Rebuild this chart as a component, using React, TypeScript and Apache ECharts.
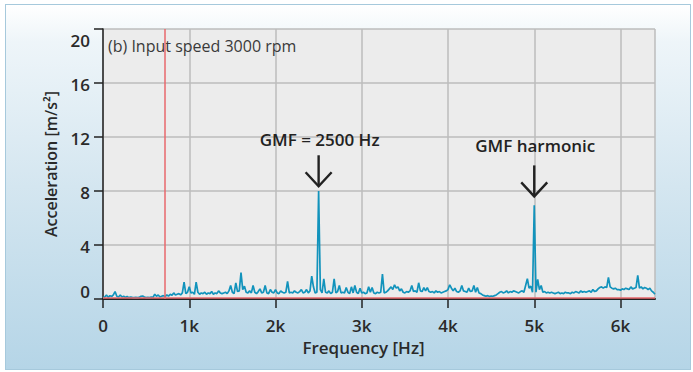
import React, { useEffect, useRef } from "react";
import * as echarts from "echarts";

// Sampling step of the spectrum (Hz) and amplitudes (m/s²), 0 .. 6400 Hz
const FREQ_STEP = 20;
const AMPLITUDE = [
  0.1, 0.15, 0.3, 0.12, 0.25, 0.18, 0.3, 0.55, 0.2, 0.15,
  0.3, 0.15, 0.2, 0.12, 0.18, 0.1, 0.15, 0.12, 0.1, 0.12,
  0.1, 0.12, 0.2, 0.22, 0.15, 0.1, 0.12, 0.1, 0.15, 0.12,
  0.35, 0.2, 0.3, 0.15, 0.2, 0.25, 0.18, 0.3, 0.22, 0.35,
  0.28, 0.45, 0.3, 0.35, 0.4, 0.3, 0.45, 1.25, 0.4, 0.5,
  0.9, 0.45, 0.5, 0.35, 1.25, 0.5, 0.35, 0.45, 0.4, 0.5,
  0.35, 0.45, 0.4, 0.55, 0.35, 0.45, 0.4, 0.6, 0.45, 0.4,
  0.45, 0.5, 0.4, 0.6, 1.0, 0.5, 0.4, 1.2, 0.55, 0.6,
  1.95, 0.7, 0.95, 0.5, 0.45, 0.6, 0.45, 1.0, 0.5, 0.4,
  0.55, 0.75, 0.45, 0.5, 1.0, 0.45, 0.4, 0.7, 0.5, 0.45,
  0.7, 0.45, 0.4, 0.6, 0.5, 0.45, 0.5, 1.3, 0.45, 0.5,
  0.45, 0.6, 0.5, 0.45, 0.55, 0.7, 0.45, 0.5, 0.7, 0.45,
  0.6, 1.7, 0.9, 0.45, 0.5, 8.0, 0.7, 0.45, 1.5, 0.5,
  0.45, 0.6, 0.4, 0.5, 1.5, 0.45, 0.55, 1.0, 0.45, 0.5,
  0.45, 0.85, 0.5, 0.4, 0.9, 0.45, 1.0, 0.5, 0.4, 0.8,
  0.45, 0.5, 0.4, 0.45, 0.9, 0.5, 0.85, 0.45, 0.4, 0.5,
  0.45, 0.5, 1.85, 0.45, 0.5, 0.6, 0.75, 0.9, 0.7, 1.05,
  0.8, 0.9, 0.6, 0.75, 0.5, 0.45, 0.55, 0.5, 0.6, 1.0,
  0.55, 0.6, 0.5, 1.2, 0.6, 0.55, 0.85, 0.6, 0.85, 0.55,
  0.5, 0.55, 0.45, 0.6, 0.5, 0.55, 0.45, 0.5, 0.55, 0.6,
  0.7, 1.05, 0.8, 0.6, 0.8, 0.55, 0.5, 0.6, 1.0, 0.6,
  0.55, 0.5, 0.8, 0.55, 0.6, 1.0, 0.5, 0.85, 0.45, 0.4,
  0.3, 0.25, 0.2, 0.25, 0.18, 0.22, 0.2, 0.25, 0.3, 0.4,
  0.5, 0.55, 0.45, 0.5, 0.6, 0.45, 0.55, 0.5, 0.6, 0.55,
  0.5, 0.45, 0.55, 0.6, 0.5, 1.0, 1.5, 0.8, 0.95, 0.5,
  6.95, 0.5, 1.45, 0.7, 1.0, 0.5, 0.55, 0.45, 0.5, 0.45,
  0.5, 0.45, 0.4, 0.45, 0.5, 0.4, 0.45, 0.4, 0.5, 0.45,
  0.45, 0.4, 0.5, 0.45, 0.55, 0.5, 0.45, 0.6, 0.5, 0.55,
  0.5, 0.55, 0.6, 0.5, 0.7, 0.55, 0.6, 0.75, 0.85, 0.9,
  0.8, 0.9, 0.85, 1.6, 0.9, 0.8, 0.75, 0.8, 0.7, 0.7,
  0.65, 0.75, 0.7, 0.8, 0.75, 0.7, 0.9, 0.75, 0.8, 0.85,
  1.75, 0.8, 0.9, 0.75, 0.85, 0.8, 0.7, 0.8, 0.6, 0.5,
  0.35,
];

const X_MIN = 0;
const X_MAX = 6400;
const X_INTERVAL = 1000;
const Y_TICKS = [0, 4, 8, 12, 16, 20];
const RED_MARKER_FREQ = 715;
const RED_THRESHOLD = 0.1;

const ANNOTATION_FREQS = [2500, 5000];
const ANNOTATION_LABELS = ["GMF = 2500 Hz", "GMF harmonic"];
const ANNOTATION_TIP_VALUES = [8.35, 7.6];
const ANNOTATION_LABEL_VALUES = [11.85, 11.4];
const PANEL_TITLE = "(b) Input speed 3000 rpm";

const FONT = "'Open Sans', 'Noto Sans', sans-serif";

export default function App() {
  const ref = useRef<HTMLDivElement>(null);

  useEffect(() => {
    if (!ref.current) return;
    const chart = echarts.init(ref.current, undefined, { renderer: "svg" });
    const data = AMPLITUDE.map((v, i) => [i * FREQ_STEP, v]);
    const yMin = Y_TICKS[0];
    const yMax = Y_TICKS[Y_TICKS.length - 1];
    const labelStyle = {
      fontFamily: FONT,
      fontSize: 16,
      fontWeight: 600,
      color: "#2a2a2a",
    };

    chart.setOption({
      animation: false,
      backgroundColor: "transparent",
      grid: {
        left: 103,
        right: 38,
        top: 29,
        bottom: 73,
        show: true,
        backgroundColor: "#ececec",
        borderWidth: 0,
      },
      xAxis: {
        type: "value",
        min: X_MIN,
        max: X_MAX,
        interval: X_INTERVAL,
        name: "Frequency [Hz]",
        nameLocation: "middle",
        nameGap: 34,
        nameTextStyle: {
          ...labelStyle,
          fontSize: 17,
          padding: [0, 31, 0, 0],
        },
        axisLine: { show: true, onZero: false, lineStyle: { color: "#222", width: 2 } },
        axisTick: { show: true, length: 9, lineStyle: { color: "#222", width: 1.5 } },
        axisLabel: {
          ...labelStyle,
          fontSize: 17,
          margin: 18,
          showMaxLabel: false,
          formatter: (v: number) => (v === 0 ? "0" : v / 1000 + "k"),
        },
        splitLine: { show: true, lineStyle: { color: "#bcbcbc", width: 1.5 } },
      },
      yAxis: {
        type: "value",
        min: yMin,
        max: yMax,
        interval: Y_TICKS[1] - Y_TICKS[0],
        name: "Acceleration [m/s²]",
        nameLocation: "middle",
        nameGap: 44,
        nameTextStyle: { ...labelStyle },
        axisLine: { show: true, lineStyle: { color: "#222", width: 1.5 } },
        axisTick: { show: true, length: 9, lineStyle: { color: "#222", width: 1.5 } },
        axisLabel: {
          ...labelStyle,
          fontSize: 17,
          margin: 13,
          formatter: (v: number) =>
            v === yMax ? "{top|" + v + "}" : v === yMin ? "{bot|" + v + "}" : "{mid|" + v + "}",
          rich: {
            top: { ...labelStyle, fontSize: 17, padding: [23, 0, 0, 0] },
            bot: { ...labelStyle, fontSize: 17, padding: [0, 0, 16, 0] },
            mid: { ...labelStyle, fontSize: 17, padding: [3, 0, 0, 0] },
          },
        },
        splitLine: { show: true, lineStyle: { color: "#bcbcbc", width: 1.5 } },
      },
      series: [
        {
          type: "line",
          data,
          showSymbol: false,
          symbol: "none",
          lineStyle: { color: "#1293bc", width: 1.7 },
          z: 3,
          markLine: {
            silent: true,
            symbol: "none",
            label: { show: false },
            lineStyle: { color: "#e8686d", width: 1.5, type: "solid" },
            data: [{ xAxis: RED_MARKER_FREQ }, { yAxis: RED_THRESHOLD }],
          },
        },
      ],
    });

    const graphics: any[] = [
      {
        type: "text",
        id: "panel-title",
        left: 108,
        top: 38,
        style: {
          text: PANEL_TITLE,
          fontFamily: FONT,
          fontSize: 16,
          fontWeight: 400,
          fill: "#3a3a3a",
        },
      },
    ];
    ANNOTATION_FREQS.forEach((f, i) => {
      const tip = chart.convertToPixel({ gridIndex: 0 }, [f, ANNOTATION_TIP_VALUES[i]]) as number[];
      const lab = chart.convertToPixel({ gridIndex: 0 }, [f, ANNOTATION_LABEL_VALUES[i]]) as number[];
      graphics.push(
        {
          type: "line",
          id: "shaft" + i,
          shape: { x1: tip[0], y1: tip[1] - 31, x2: tip[0], y2: tip[1] - 1 },
          style: { stroke: "#222", lineWidth: 2.4 },
        },
        {
          type: "polyline",
          id: "head" + i,
          shape: {
            points: [
              [tip[0] - 13, tip[1] - 14],
              [tip[0], tip[1]],
              [tip[0] + 13, tip[1] - 14],
            ],
          },
          style: { stroke: "#222", lineWidth: 2.4, fill: null },
        },
        {
          type: "text",
          id: "label" + i,
          x: lab[0] + 1,
          y: lab[1],
          style: {
            text: ANNOTATION_LABELS[i],
            fontFamily: FONT,
            fontSize: 17,
            fontWeight: 600,
            fill: "#222",
            align: "center",
            verticalAlign: "middle",
          },
        }
      );
    });
    chart.setOption({ graphic: graphics });

    return () => chart.dispose();
  }, []);

  return (
    <div
      style={{
        position: "fixed",
        left: 0,
        top: 0,
        width: 693,
        height: 372,
        background: "#ffffff",
      }}
    >
      <div
        style={{
          position: "absolute",
          left: 5,
          top: 4,
          width: 684,
          height: 364,
          border: "1.5px solid #a6c9dc",
          background:
            "linear-gradient(to bottom, #ffffff 0%, #eef5f9 10%, #d4e6f0 50%, #b5d5e7 100%)",
        }}
      />
      <div ref={ref} style={{ position: "absolute", left: 0, top: 0, width: 693, height: 372 }} />
    </div>
  );
}
